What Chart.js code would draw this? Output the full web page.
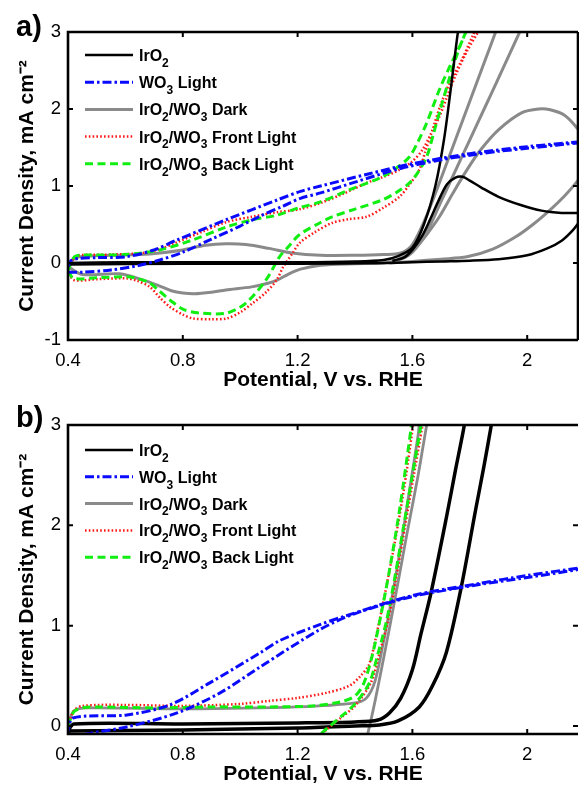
<!DOCTYPE html>
<html><head><meta charset="utf-8">
<script src="https://cdn.jsdelivr.net/npm/chart.js@4.4.1/dist/chart.umd.min.js"></script>
<style>
html,body{margin:0;padding:0;background:#fff;}
#wrap{position:relative;width:579px;height:785px;overflow:hidden;}
canvas{position:absolute;left:0;}
#ca{top:0;} #cb{top:393px;}
</style></head>
<body><div id="wrap"><canvas id="ca" width="579" height="393"></canvas><canvas id="cb" width="579" height="392"></canvas></div>
<script>
// ---------- shared labels / ticks ----------
const xTicks = [0.4, 0.8, 1.2, 1.6, 2.0];
const xTickLabels = ["0.4", "0.8", "1.2", "1.6", "2"];
const yTicksA = [-1, 0, 1, 2, 3];
const yTicksB = [0, 1, 2, 3];
const legendLabels = ["IrO_2", "WO_3 Light", "IrO_2/WO_3 Dark", "IrO_2/WO_3 Front Light", "IrO_2/WO_3 Back Light"];
const xTitle = "Potential, V vs. RHE";
const yTitle = "Current Density, mA cm\u207B\u00B2";

// ---------- panel a data (V vs RHE, mA cm-2) ----------
const aIrO2SteepV = [0.40,0.60,0.90,1.20,1.40,1.50,1.55,1.60,1.64,1.68,1.71,1.735,1.755,1.77];
const aIrO2SteepJ = [0.00,0.01,0.01,0.01,0.02,0.04,0.09,0.20,0.50,1.00,1.60,2.30,2.90,3.30];
const aIrO2LoopV = [0.40,0.80,1.20,1.50,1.60,1.70,1.80,1.90,2.00,2.07,2.12,2.16,2.19,2.20,2.18,2.12,2.05,1.98,1.90,1.84,1.80,1.775,1.75,1.72,1.69,1.66,1.635,1.60,1.57,1.53];
const aIrO2LoopJ = [-0.02,-0.01,-0.01,0.00,0.01,0.02,0.03,0.05,0.10,0.19,0.29,0.43,0.58,0.64,0.65,0.65,0.68,0.75,0.86,0.98,1.07,1.12,1.11,1.02,0.80,0.55,0.36,0.17,0.07,0.03];

const aWO3V = [0.40,0.45,0.55,0.65,0.72,0.80,0.90,1.00,1.07,1.15,1.21,1.28,1.40,1.55,1.70,1.80,1.90,2.00,2.10,2.20,2.20,2.00,1.80,1.60,1.45,1.28,1.21,1.13,0.95,0.78,0.70,0.60,0.50,0.44,0.41,0.40];
const aWO3J = [-0.12,-0.12,-0.09,-0.03,0.04,0.14,0.31,0.48,0.61,0.74,0.84,0.91,1.05,1.22,1.34,1.40,1.45,1.49,1.53,1.57,1.58,1.51,1.42,1.29,1.16,1.00,0.93,0.82,0.56,0.30,0.17,0.08,0.07,0.06,0.03,-0.05];

const aDark1V = [0.40,0.42,0.44,0.55,0.65,0.72,0.80,0.88,0.95,1.02,1.10,1.18,1.28,1.40,1.50,1.56,1.60,1.65,1.70,1.75,1.80,1.85,1.89,1.92];
const aDark1J = [-0.05,0.05,0.08,0.10,0.11,0.13,0.17,0.23,0.25,0.24,0.19,0.13,0.10,0.10,0.11,0.13,0.24,0.62,1.10,1.60,2.10,2.60,3.00,3.30];
const aDark2V = [0.40,0.45,0.58,0.66,0.72,0.76,0.80,0.84,0.90,0.95,1.04,1.10,1.13,1.17,1.21,1.28,1.40,1.50,1.56,1.60,1.65,1.70,1.75,1.80,1.85,1.90,1.98,2.01];
const aDark2J = [-0.05,-0.15,-0.14,-0.22,-0.30,-0.36,-0.39,-0.40,-0.38,-0.35,-0.31,-0.26,-0.22,-0.14,-0.08,-0.03,-0.01,0.00,0.05,0.14,0.40,0.80,1.20,1.60,2.00,2.40,3.05,3.30];
const aDark3V = [1.52,1.60,1.70,1.79,1.88,1.96,2.02,2.08,2.13,2.17,2.20,2.20,2.17,2.13,2.08,2.04,1.98,1.90,1.84,1.79,1.74,1.694,1.65,1.614,1.58,1.55];
const aDark3J = [0.00,0.02,0.05,0.08,0.18,0.34,0.50,0.69,0.87,1.04,1.20,1.60,1.77,1.92,1.99,2.00,1.95,1.73,1.48,1.21,0.90,0.60,0.37,0.21,0.10,0.05];

const aFrontV = [0.40,0.42,0.44,0.55,0.66,0.72,0.78,0.87,0.95,1.04,1.13,1.21,1.28,1.36,1.44,1.50,1.555,1.60,1.635,1.665,1.694,1.72,1.753,1.79,1.833,1.86,
                 1.85,1.81,1.77,1.735,1.70,1.67,1.645,1.624,1.59,1.555,1.50,1.44,1.38,1.32,1.26,1.207,1.183,1.15,1.127,1.09,1.044,1.00,0.953,0.90,0.835,0.80,0.755,0.72,0.685,0.64,0.605,0.50,0.42,0.40];
const aFrontJ = [-0.10,0.06,0.10,0.11,0.13,0.18,0.27,0.41,0.53,0.60,0.66,0.70,0.78,0.90,1.04,1.12,1.21,1.32,1.47,1.68,1.90,2.15,2.46,2.75,3.03,3.25,
                 3.25,2.95,2.62,2.38,2.07,1.73,1.45,1.21,1.02,0.86,0.72,0.60,0.57,0.52,0.40,0.26,0.13,-0.05,-0.22,-0.38,-0.52,-0.64,-0.72,-0.73,-0.72,-0.67,-0.57,-0.45,-0.31,-0.23,-0.20,-0.21,-0.22,-0.10];

const aBackV = [0.40,0.42,0.44,0.60,0.72,0.835,0.953,1.04,1.127,1.207,1.277,1.38,1.496,1.55,1.59,1.62,1.65,1.694,1.73,1.763,1.79,1.81,
                1.81,1.775,1.753,1.725,1.70,1.675,1.65,1.62,1.59,1.55,1.496,1.40,1.32,1.277,1.207,1.17,1.137,1.09,1.02,0.953,0.86,0.80,0.755,0.72,0.685,0.64,0.605,0.50,0.42,0.40];
const aBackJ = [-0.10,0.07,0.10,0.11,0.17,0.30,0.47,0.56,0.62,0.72,0.79,0.95,1.12,1.25,1.38,1.58,1.82,2.25,2.55,2.80,3.03,3.20,
                3.20,2.90,2.68,2.35,2.03,1.70,1.38,1.18,1.04,0.93,0.82,0.70,0.60,0.52,0.37,0.22,0.08,-0.22,-0.52,-0.65,-0.65,-0.60,-0.48,-0.37,-0.26,-0.20,-0.18,-0.19,-0.20,-0.10];

// ---------- panel b data ----------
const bIrO2V = [0.40,0.80,1.20,1.40,1.485,1.55,1.624,1.67,1.718,1.77,1.82,1.85,1.875,1.89,
                1.79,1.781,1.75,1.72,1.665,1.63,1.60,1.56,1.52,1.48,1.40,1.20,0.80,0.42,0.40];
const bIrO2J = [-0.05,-0.04,-0.02,0.00,0.01,0.05,0.19,0.40,0.73,1.38,2.15,2.60,3.00,3.25,
                3.20,3.00,2.55,2.10,1.33,0.92,0.56,0.28,0.13,0.06,0.04,0.03,0.02,0.02,-0.05];
const bWO3V = [0.40,0.466,0.605,0.78,0.93,1.07,1.277,1.40,1.60,1.833,2.00,2.20,2.20,2.00,1.833,1.60,1.37,1.277,1.137,1.07,0.894,0.755,0.605,0.417,0.40];
const bWO3J = [-0.15,-0.08,-0.01,0.13,0.33,0.59,0.96,1.12,1.29,1.41,1.48,1.57,1.58,1.50,1.42,1.30,1.10,1.01,0.85,0.73,0.43,0.21,0.11,0.08,-0.05];
const bDarkV = [0.40,0.42,0.47,0.80,1.20,1.40,1.44,1.47,1.50,1.53,1.56,1.59,1.62,1.635,
                1.665,1.65,1.62,1.58,1.537,1.50,1.47,1.445,1.43,1.20,0.80,0.42,0.40];
const bDarkJ = [0.00,0.15,0.18,0.17,0.19,0.23,0.28,0.45,0.85,1.30,1.80,2.35,2.90,3.20,
                3.20,3.00,2.50,1.90,1.23,0.68,0.25,-0.07,-0.20,-0.15,-0.15,-0.15,0.00];
const bFrontV = [0.40,0.42,0.45,0.60,0.80,1.00,1.10,1.20,1.30,1.38,1.42,1.45,1.48,1.51,1.54,1.57,1.60,1.615,
                 1.65,1.635,1.605,1.575,1.545,1.515,1.485,1.455,1.40,1.35,1.30,1.28,1.25];
const bFrontJ = [0.00,0.15,0.20,0.21,0.20,0.22,0.25,0.28,0.33,0.40,0.50,0.62,0.98,1.40,1.85,2.35,2.95,3.30,
                 3.30,3.00,2.50,2.00,1.50,1.05,0.72,0.43,0.20,0.08,-0.04,-0.10,-0.18];
const bBackV = [0.40,0.42,0.45,0.50,0.70,0.90,1.10,1.25,1.35,1.40,1.43,1.46,1.49,1.52,1.555,1.597,1.61,
                1.645,1.63,1.60,1.57,1.54,1.51,1.48,1.45,1.40,1.35,1.30,1.28,1.25];
const bBackJ = [0.00,0.14,0.18,0.19,0.18,0.19,0.19,0.20,0.24,0.30,0.42,0.70,1.10,1.55,2.15,3.00,3.30,
                3.30,3.00,2.50,2.00,1.50,1.05,0.72,0.43,0.22,0.09,-0.03,-0.08,-0.15];

// ---------- styles ----------
const FONT = "'Liberation Sans', Arial, Helvetica, sans-serif";
const ST = {
  ir:   {color:'#000000', width:2.5, dash:[]},
  wo3:  {color:'#0a0aff', width:3,   dash:[9,3,2.5,3]},
  dark: {color:'#8a8a8a', width:3,   dash:[]},
  front:{color:'#ff1a1a', width:2.5, dash:[1.6,2.2]},
  back: {color:'#11ee11', width:3,   dash:[8,4.5]}
};
const legendStyles = [ST.ir, ST.wo3, ST.dark, ST.front, ST.back];

function pts(V, J){ return V.map((v,i)=>({x:v, y:J[i]})); }
function ds(V, J, st, w){
  return {data:pts(V,J), showLine:true, pointRadius:0, pointHoverRadius:0,
          borderColor:st.color, backgroundColor:st.color, borderWidth:w||st.width,
          borderDash:st.dash, tension:0.3, fill:false, clip:0};
}

// draw text with "_x" single-char subscripts
function richText(ctx, text, x, y, size){
  let cx = x;
  for (let i=0;i<text.length;i++){
    const ch = text[i];
    if (ch === '_' && i+1 < text.length){
      const s = text[i+1]; i++;
      ctx.font = "bold " + Math.round(size*0.72) + "px " + FONT;
      ctx.fillText(s, cx, y + size*0.36);
      cx += ctx.measureText(s).width;
    } else {
      ctx.font = "bold " + size + "px " + FONT;
      ctx.fillText(ch, cx, y);
      cx += ctx.measureText(ch).width;
    }
  }
}

const decoPlugin = {
  id:'deco',
  afterDatasetsDraw(chart, args, o){
    const {ctx, chartArea:a, scales:{x, y}} = chart;
    ctx.save();
    ctx.strokeStyle = '#000'; ctx.lineWidth = 2.6; ctx.lineCap='butt';
    ctx.beginPath();
    ctx.moveTo(a.right, a.top); ctx.lineTo(a.left, a.top); ctx.lineTo(a.left, a.bottom); ctx.lineTo(a.right, a.bottom);
    if (o.rightBorder){ ctx.moveTo(a.right, a.bottom); ctx.lineTo(a.right, a.top); }
    ctx.stroke();
    ctx.lineWidth = 2; ctx.beginPath();
    const L = 5;
    x.ticks.forEach(t=>{ const p = x.getPixelForValue(t.value); if (p < a.left+2) return;
      ctx.moveTo(p, a.bottom); ctx.lineTo(p, a.bottom-L); ctx.moveTo(p, a.top); ctx.lineTo(p, a.top+L); });
    y.ticks.forEach(t=>{ const p = y.getPixelForValue(t.value); if (p > a.bottom-2 || p < a.top+2) return;
      ctx.moveTo(a.left, p); ctx.lineTo(a.left+L, p); ctx.moveTo(a.right, p); ctx.lineTo(a.right-L, p); });
    ctx.stroke();
    // legend
    ctx.textBaseline = 'alphabetic'; ctx.fillStyle = '#000';
    legendLabels.forEach((lab, i)=>{
      const ry = o.legendTop + i*o.legendStep;
      const st = legendStyles[i];
      ctx.beginPath(); ctx.strokeStyle = st.color; ctx.lineWidth = st.width; ctx.setLineDash(st.dash);
      ctx.moveTo(85, ry); ctx.lineTo(133, ry); ctx.stroke(); ctx.setLineDash([]);
      ctx.fillStyle = '#000';
      richText(ctx, lab, 139, ry + 6, 16);
    });
    // panel label
    ctx.font = "bold 29px " + FONT; ctx.fillStyle = '#000';
    ctx.fillText(o.panel, 16, o.panelBase);
    ctx.restore();
  }
};

function makeChart(id, datasets, yMin, yMax, yTicks, xH, o){
  return new Chart(document.getElementById(id), {
    type:'scatter',
    data:{datasets},
    plugins:[decoPlugin],
    options:{
      responsive:false, animation:false, devicePixelRatio:1,
      layout:{padding:{left:0, right:1, top:32, bottom:0}},
      plugins:{legend:{display:false}, tooltip:{enabled:false}, deco:o},
      scales:{
        x:{type:'linear', min:0.4, max:2.177,
           afterBuildTicks:s=>{ s.ticks = xTicks.map(v=>({value:v})); },
           afterFit:s=>{ s.height = xH; },
           grid:{display:false, drawTicks:false}, border:{display:false},
           ticks:{autoSkip:false, maxRotation:0, padding:10, color:'#000',
                  font:{family:FONT, size:18.5},
                  callback:(v)=>{ const i = xTicks.findIndex(t=>Math.abs(t-v)<1e-6); return i>=0 ? xTickLabels[i] : ''; }},
           title:{display:true, text:xTitle, color:'#000', font:{family:FONT, size:21, weight:'bold', lineHeight:1.0}, padding:{top:0, bottom:o.xTitlePad}}},
        y:{type:'linear', min:yMin, max:yMax,
           afterBuildTicks:s=>{ s.ticks = yTicks.map(v=>({value:v})); },
           afterFit:s=>{ s.width = 68; },
           grid:{display:false, drawTicks:false}, border:{display:false},
           ticks:{autoSkip:false, padding:7, color:'#000', font:{family:FONT, size:18.5},
                  callback:(v)=>String(v)},
           title:{display:true, text:yTitle, color:'#000', font:{family:FONT, size:21, weight:'bold', lineHeight:1.0}, padding:{top:16.5, bottom:0}}}
      }
    }
  });
}

makeChart('ca', [
  ds(aWO3V, aWO3J, ST.wo3),
  ds(aIrO2SteepV, aIrO2SteepJ, ST.ir),
  ds(aIrO2LoopV, aIrO2LoopJ, ST.ir),
  ds(aBackV, aBackJ, ST.back),
  ds(aFrontV, aFrontJ, ST.front),
  ds(aDark1V, aDark1J, ST.dark),
  ds(aDark2V, aDark2J, ST.dark),
  ds(aDark3V, aDark3J, ST.dark)
], -1, 3, yTicksA, 53, {panel:'a)', panelBase:36, legendTop:55, legendStep:27.2, rightBorder:true, xTitlePad:2.5});

makeChart('cb', [
  ds(bWO3V, bWO3J, ST.wo3),
  ds(bBackV, bBackJ, ST.back),
  ds(bFrontV, bFrontJ, ST.front),
  ds(bIrO2V, bIrO2J, ST.ir, 3.5),
  ds(bDarkV, bDarkJ, ST.dark, 2.8)
], -0.08, 3, yTicksB, 51, {panel:'b)', panelBase:34, legendTop:57, legendStep:26.8, rightBorder:false, xTitlePad:0});
</script>
</body></html>
